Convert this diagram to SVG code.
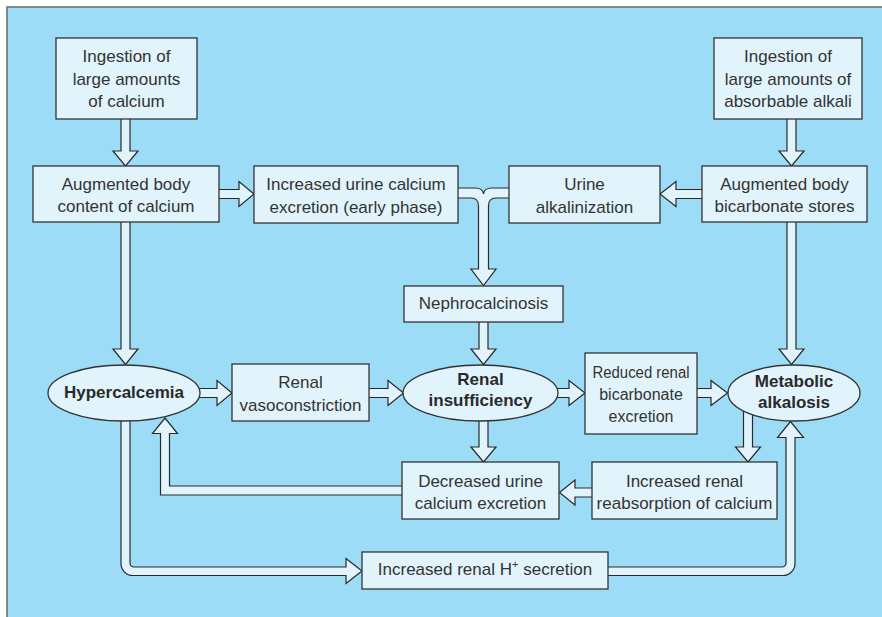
<svg xmlns="http://www.w3.org/2000/svg" width="882" height="617" viewBox="0 0 882 617">
<style>
.bg{fill:#9DDCF7;stroke:#6a6a6a;stroke-width:1.5}
.box{fill:#E1F3FB;stroke:#333;stroke-width:1.3}
.arr{fill:#E1F3FB;stroke:#2a2a2a;stroke-width:1.2;stroke-linejoin:miter}
text{font-family:"Liberation Sans",Arial,sans-serif;font-size:17px;fill:#333;text-anchor:middle}
.b{font-weight:bold;fill:#2a2a2a}
.s{font-size:16px}
</style>
<rect x="0" y="0" width="882" height="617" fill="#fff"/>
<rect class="bg" x="7" y="7" width="900" height="640"/>
<g id="connectors">
<polygon class="arr" points="121,115 130,115 130,151 138,151 125.5,166 113,151 121,151"/>
<polygon class="arr" points="215,189.5 239,189.5 239,181.5 254,194 239,206.5 239,198.5 215,198.5"/>
<polygon class="arr" points="706,189.5 676,189.5 676,181.5 660,194 676,206.5 676,198.5 706,198.5"/>
<polygon class="arr" points="787,115 796,115 796,151 804,151 791.5,166 779,151 787,151"/>
<path class="arr" d="M454,188 H475 Q483,188 483.5,194 Q484,188 492,188 H513 V198 H496 Q488.5,198 488.5,206 V269 H496 L483.5,285.5 L471,269 H478.5 V206 Q478.5,198 471,198 H454 Z"/>
<polygon class="arr" points="121,218 130,218 130,349 138,349 125.5,364.5 113,349 121,349"/>
<polygon class="arr" points="787,218 796,218 796,349 804,349 791.5,364.5 779,349 787,349"/>
<polygon class="arr" points="479,318 488,318 488,349 496,349 483.5,364.5 471,349 479,349"/>
<polygon class="arr" points="190,388.5 217,388.5 217,380.5 232,393 217,405.5 217,397.5 190,397.5"/>
<polygon class="arr" points="365,388.5 388,388.5 388,380.5 403.5,393 388,405.5 388,397.5 365,397.5"/>
<polygon class="arr" points="545,388.5 569,388.5 569,380.5 585,393 569,405.5 569,397.5 545,397.5"/>
<polygon class="arr" points="693,388.5 711,388.5 711,380.5 727.5,393 711,405.5 711,397.5 693,397.5"/>
<polygon class="arr" points="479,415 488,415 488,447 496,447 483.5,462 471,447 479,447"/>
<polygon class="arr" points="743.5,405 752.5,405 752.5,447 760.5,447 748,462 735.5,447 743.5,447"/>
<polygon class="arr" points="596,488 575,488 575,480 559.5,492.5 575,505 575,497 596,497"/>
<polygon class="arr" points="406,486 169.5,486 169.5,433.5 177.5,433.5 165,418 152.5,433.5 160.5,433.5 160.5,495 406,495"/>
<path class="arr" d="M121,410 V563 A12,12 0 0 0 133,575.5 H346 V583.5 L362,571 L346,558.5 V567 H134 A4,4 0 0 1 130,563 V410 Z"/>
<path class="arr" d="M604,575.5 H783 A12,12 0 0 0 795,563.5 V437.5 H803.5 L790.5,421.5 L777.5,437.5 H786 V563 A4,4 0 0 1 782,567 H604 Z"/>
</g>
<g id="n_ing_ca"><rect class="box" x="56" y="38" width="141" height="81"/><text x="126.5" y="62">Ingestion of</text><text x="126.5" y="85">large amounts</text><text x="126.5" y="107">of calcium</text></g>
<g id="n_ing_alk"><rect class="box" x="714" y="38" width="148" height="81"/><text x="788" y="62">Ingestion of</text><text x="788" y="85">large amounts of</text><text x="788" y="107">absorbable alkali</text></g>
<g id="n_body_ca"><rect class="box" x="33" y="166" width="186" height="56"/><text x="126" y="190">Augmented body</text><text x="126" y="212">content of calcium</text></g>
<g id="n_urine_ca"><rect class="box" x="254" y="166" width="204" height="57"/><text x="356" y="190">Increased urine calcium</text><text x="356" y="212.5">excretion (early phase)</text></g>
<g id="n_urine_alk"><rect class="box" x="509" y="166" width="151" height="57"/><text x="584.5" y="190">Urine</text><text x="584.5" y="212.5">alkalinization</text></g>
<g id="n_bicarb"><rect class="box" x="702" y="166" width="165" height="56"/><text x="784.5" y="190">Augmented body</text><text x="784.5" y="212">bicarbonate stores</text></g>
<g id="n_nephro"><rect class="box" x="404" y="286" width="159" height="36"/><text x="483.5" y="309">Nephrocalcinosis</text></g>
<g id="n_hyper"><ellipse class="box" cx="124" cy="393" rx="76" ry="28"/><text class="b" x="124" y="398">Hypercalcemia</text></g>
<g id="n_vaso"><rect class="box" x="232" y="364" width="137" height="57"/><text x="300.5" y="388">Renal</text><text x="300.5" y="410.5">vasoconstriction</text></g>
<g id="n_ri"><ellipse class="box" cx="480.5" cy="393" rx="77.5" ry="28"/><text class="b" x="480.5" y="385">Renal</text><text class="b" x="480.5" y="406">insufficiency</text></g>
<g id="n_reduced"><rect class="box" x="585" y="353" width="112" height="81"/><text class="s" x="641" y="377.5" textLength="97" lengthAdjust="spacingAndGlyphs">Reduced renal</text><text class="s" x="641" y="400">bicarbonate</text><text class="s" x="641" y="421.5">excretion</text></g>
<g id="n_met"><ellipse class="box" cx="794" cy="393" rx="66" ry="28"/><text class="b" x="794" y="386.5">Metabolic</text><text class="b" x="794" y="408">alkalosis</text></g>
<g id="n_decr"><rect class="box" x="402" y="462" width="157" height="57"/><text x="480.5" y="486.5">Decreased urine</text><text x="480.5" y="508.5">calcium excretion</text></g>
<g id="n_reabs"><rect class="box" x="592" y="462" width="185" height="57"/><text x="684.5" y="486.5">Increased renal</text><text x="684.5" y="508.5">reabsorption of calcium</text></g>
<g id="n_hsec"><rect class="box" x="362" y="552" width="246" height="37"/><text x="485" y="575">Increased renal H<tspan font-size="11" dy="-7">+</tspan><tspan dy="7"> secretion</tspan></text></g>
</svg>
